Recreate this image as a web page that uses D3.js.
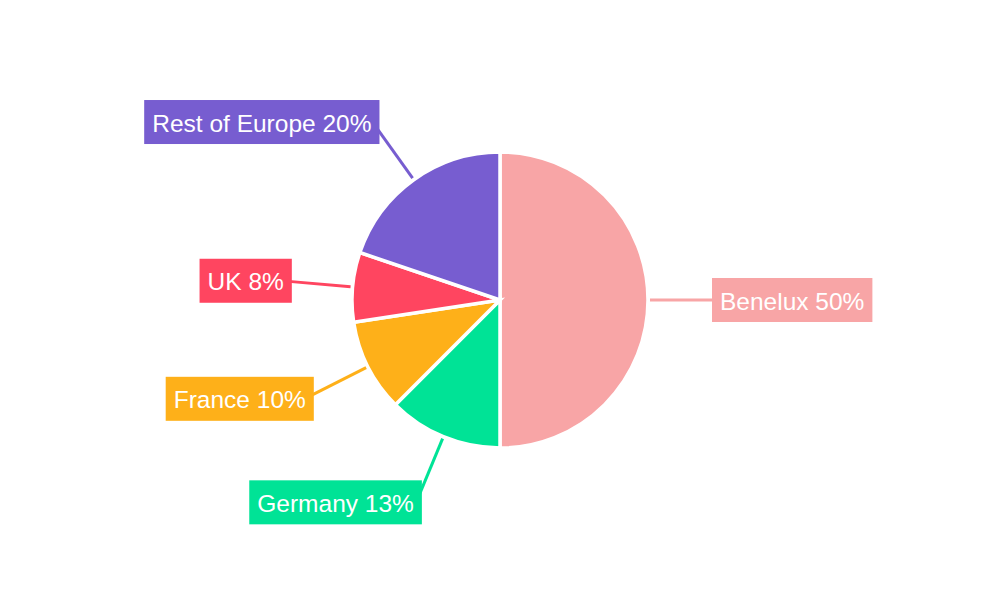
<!DOCTYPE html>
<html>
<head>
<meta charset="utf-8">
<script src="https://cdn.jsdelivr.net/npm/d3@7"></script>
<style>
  body { margin: 0; background: #fff; }
  text { font-family: "Liberation Sans", Arial, sans-serif; }
</style>
</head>
<body>
<div id="chart"></div>
<script>
// data (shares in %, labels show the rounded value)
const regions = ["Benelux", "Germany", "France", "UK", "Rest of Europe"];
const shares = [50, 12.5, 10.1, 7.6, 19.8];
const shareLabels = ["50%", "13%", "10%", "8%", "20%"];
const colors = ["#F8A5A6", "#00E396", "#FEB019", "#FF4560", "#775DD0"];

const width = 1000, height = 600;
const cx = 500, cy = 300;
const radius = 148;
const lineStart = radius + 2, lineEnd = 212, labelR = 219;
const boxH = 44, padX = 8, fontSize = 24.5;

const svg = d3.select("#chart").append("svg")
  .attr("width", width)
  .attr("height", height);

const g = svg.append("g")
  .attr("transform", "translate(" + cx + "," + cy + ")");

const pie = d3.pie().sort(null).value(function(d) { return d.value; });
const arc = d3.arc().innerRadius(0).outerRadius(radius);

const data = regions.map(function(r, i) {
  return {name: r, value: shares[i], label: shareLabels[i], color: colors[i]};
});
const arcs = pie(data);

// slices
g.selectAll("path.slice")
  .data(arcs).enter().append("path")
  .attr("class", "slice")
  .attr("d", arc)
  .attr("fill", function(d) { return d.data.color; })
  .attr("stroke", "#fff")
  .attr("stroke-width", 3.5);

function mid(d) { return (d.startAngle + d.endAngle) / 2; }

// leader lines (radial)
g.selectAll("line.leader")
  .data(arcs).enter().append("line")
  .attr("class", "leader")
  .attr("x1", function(d) { return lineStart * Math.sin(mid(d)); })
  .attr("y1", function(d) { return -lineStart * Math.cos(mid(d)); })
  .attr("x2", function(d) { return lineEnd * Math.sin(mid(d)); })
  .attr("y2", function(d) { return -lineEnd * Math.cos(mid(d)); })
  .attr("stroke", function(d) { return d.data.color; })
  .attr("stroke-width", 3);

// label boxes
const labels = g.selectAll("g.label")
  .data(arcs).enter().append("g")
  .attr("class", "label");

labels.each(function(d) {
  const a = mid(d);
  const right = Math.sin(a) > 0;
  const lg = d3.select(this);
  const rect = lg.append("rect")
    .attr("fill", d.data.color);
  const t = lg.append("text")
    .attr("fill", "#fff")
    .attr("font-size", fontSize)
    .attr("dominant-baseline", "central")
    .text(d.data.name + " " + d.data.label);
  const w = t.node().getComputedTextLength() + padX * 2;
  const ex = lineEnd * Math.sin(a);
  const ey = -labelR * Math.cos(a);
  const x0 = right ? ex : ex - w + 3;
  rect.attr("x", x0).attr("y", ey - boxH / 2)
    .attr("width", w).attr("height", boxH);
  t.attr("x", x0 + padX).attr("y", ey + 1);
});
</script>
</body>
</html>
